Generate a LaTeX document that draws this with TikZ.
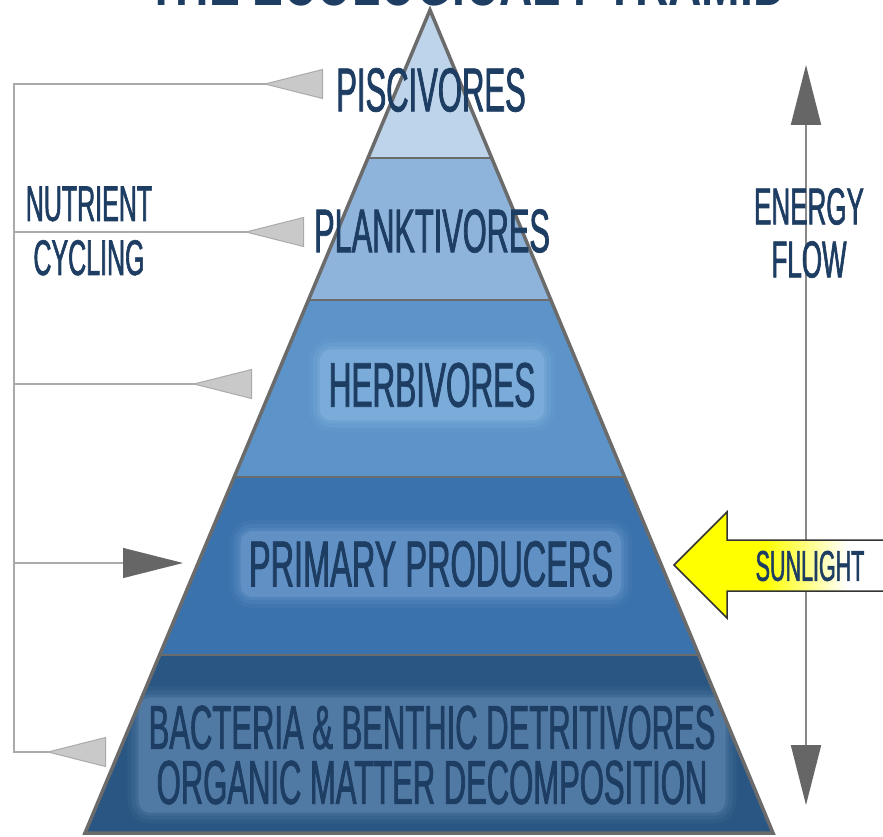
\documentclass[tikz,border=0pt]{standalone}
\usepackage{fontspec}
\usepackage{tikz}
\usetikzlibrary{arrows.meta,calc,backgrounds}
\usepackage{xcolor}

\newfontfamily\pyrfont[FakeStretch=0.5,FakeBold=1.2]{Liberation Sans}
\newfontfamily\titlefont[FakeStretch=0.7]{Liberation Sans}

\definecolor{layerA}{HTML}{BDD4EB}
\definecolor{layerB}{HTML}{8EB4DC}
\definecolor{layerC}{HTML}{5C94C9}
\definecolor{layerD}{HTML}{3A72AD}
\definecolor{layerE}{HTML}{2A5683}
\definecolor{glowC}{HTML}{7AABD9}
\definecolor{glowD}{HTML}{6190C4}
\definecolor{glowE}{HTML}{5079A4}
\definecolor{labelblue}{HTML}{1E3D63}
\definecolor{edgegray}{HTML}{6B6B6B}
\definecolor{loopgray}{HTML}{AAAAAA}
\definecolor{tipgray}{HTML}{C9C9C9}
\definecolor{darktip}{HTML}{666666}
\definecolor{sunyellow}{HTML}{FFFF00}

\pgfdeclarehorizontalshading{sunshade}{100bp}{color(0bp)=(sunyellow); color(46bp)=(sunyellow); color(65bp)=(white); color(100bp)=(white)}

\tikzset{
  lbl/.style={font=\pyrfont\fontsize{#1}{#1}\selectfont, text=labelblue, inner sep=0pt},
  glowbox/.style={fill=#1, rounded corners=12pt,
    preaction={draw=#1, draw opacity=.15, line width=22pt},
    preaction={draw=#1, draw opacity=.25, line width=14pt},
    preaction={draw=#1, draw opacity=.4, line width=6pt}},
  loopline/.style={draw=loopgray, line width=2.5pt, line cap=rect},
  outtip/.style={-{Triangle[reversed,length=60pt,width=30pt,fill=tipgray,color=loopgray,line width=1pt]}},
  intip/.style={-{Triangle[length=60pt,width=30pt,fill=darktip,color=darktip,line width=1pt]}},
  energyline/.style={draw=loopgray!80!black, line width=2pt,
    {Triangle[length=60pt,width=30pt,fill=darktip,color=darktip]}-{Triangle[length=60pt,width=30pt,fill=darktip,color=darktip]}},
  layeredge/.style={draw=edgegray, line width=2pt},
  pyredge/.style={draw=edgegray, line width=3.5pt, line join=miter}
}

\begin{document}
\begin{tikzpicture}[x=1pt,y=-1pt]
  \useasboundingbox (0,0) rectangle (883,837);

  % title, mostly above the page
  \node[font=\titlefont\bfseries\fontsize{66}{66}\selectfont, text=labelblue, anchor=base, inner sep=0pt] (title) at (467,6) {THE ECOLOGICAL PYRAMID};

  % pyramid outline and levels
  \coordinate (apex) at (430,10);
  \coordinate (bl) at (85,833);
  \coordinate (br) at (773,833);
  \draw[pyredge] (apex) -- (bl) -- (br) -- cycle;
  \node[lbl=62] (pisc) at (431,90) {PISCIVORES};
  \node[lbl=61.5] (plank) at (432,231) {PLANKTIVORES};
  \node[lbl=63] (herb) at (432,385) {HERBIVORES};
  \node[lbl=65] (prim) at (431,564) {PRIMARY PRODUCERS};
  \node[font=\pyrfont\fontsize{62}{55}\selectfont, text=labelblue, align=center, inner sep=0pt] (bact) at (432,755)
        {BACTERIA \& BENTHIC DETRITIVORES\\ORGANIC MATTER DECOMPOSITION};

  % layer fills with glow behind the labels
  \begin{scope}[on background layer]
    \fill[white] (0,0) rectangle (883,837);
    \clip (apex) -- (bl) -- (br) -- cycle;
    \fill[layerA] (0,0) rectangle (883,158);
    \fill[layerB] (0,158) rectangle (883,300);
    \fill[layerC] (0,300) rectangle (883,477);
    \fill[layerD] (0,477) rectangle (883,655);
    \fill[layerE] (0,655) rectangle (883,840);
    \fill[glowbox=glowC] ($(herb.south west)+(-9,13)$) rectangle ($(herb.north east)+(9,-13)$);
    \fill[glowbox=glowD] ($(prim.south west)+(-8,10)$) rectangle ($(prim.north east)+(8,-10)$);
    \fill[glowbox=glowE] ($(bact.south west)+(-10,8)$) rectangle ($(bact.north east)+(10,-8)$);
    \draw[layeredge] (0,158) -- (883,158);
    \draw[layeredge] (0,300) -- (883,300);
    \draw[layeredge] (0,477) -- (883,477);
    \draw[layeredge] (0,655) -- (883,655);
  \end{scope}

  % nutrient cycling
  \coordinate (loopTop) at (14,84);
  \coordinate (loopBot) at (14,752);
  \coordinate (piscIn) at (323,84);
  \coordinate (plankIn) at (304,232);
  \coordinate (herbIn) at (252,384);
  \coordinate (primIn) at (183,563);
  \coordinate (bactIn) at (106,752);
  \draw[loopline] (loopTop) -- (loopBot);
  \draw[loopline, outtip] (loopTop) -- (piscIn);
  \draw[loopline, outtip] (loopTop |- plankIn) -- (plankIn);
  \draw[loopline, outtip] (loopTop |- herbIn) -- (herbIn);
  \draw[loopline, intip] (loopTop |- primIn) -- (primIn);
  \draw[loopline, outtip] (loopBot) -- (bactIn);
  \node[font=\pyrfont\fontsize{50}{54}\selectfont, text=labelblue, align=center, inner sep=0pt] (nutri) at (89,231) {NUTRIENT\\CYCLING};

  % energy flow
  \coordinate (eTop) at (806,65);
  \coordinate (eBot) at (806,805);
  \draw[energyline] (eBot) -- (eTop);
  \node[font=\pyrfont\fontsize{52}{53}\selectfont, text=labelblue, align=center, inner sep=0pt] (energy) at (809,233) {ENERGY\\FLOW};

  % sunlight
  \shade[shading=sunshade, draw=black!80, line width=1.5pt, line join=miter]
    (674,565) -- (727,512) -- (727,540) -- (890,540) -- (890,591) -- (727,591) -- (727,618) -- cycle;
  \node[lbl=43] (sun) at (810,566) {SUNLIGHT};
\end{tikzpicture}
\end{document}
